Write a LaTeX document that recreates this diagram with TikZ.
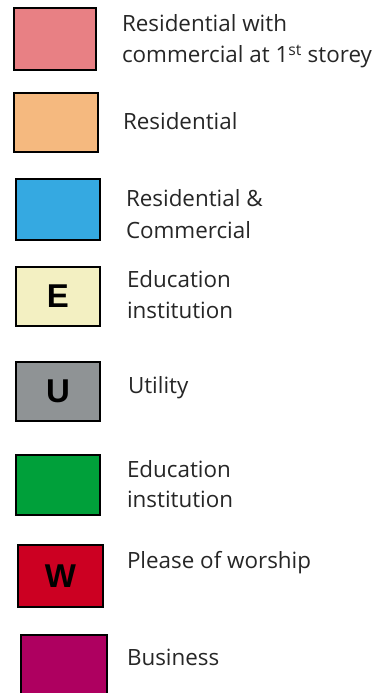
\documentclass[tikz,border=0pt]{standalone}
\usepackage{fontspec}
\setmainfont{Open Sans}
\newfontfamily\boxfont{Liberation Sans}
\definecolor{cPink}{HTML}{E88084}
\definecolor{cOrange}{HTML}{F5B97F}
\definecolor{cBlue}{HTML}{35A9E1}
\definecolor{cCream}{HTML}{F3F0C2}
\definecolor{cGray}{HTML}{8F9395}
\definecolor{cGreen}{HTML}{00A03A}
\definecolor{cRed}{HTML}{CC0022}
\definecolor{cMagenta}{HTML}{AE0060}
\definecolor{cText}{HTML}{262626}
\begin{document}
\begin{tikzpicture}[x=1pt,y=-1pt,
  legbox/.style={draw=black, line width=2pt, inner sep=0pt, outer sep=0pt,
    font=\boxfont\bfseries\fontsize{33}{33}\selectfont},
  legtext/.style={anchor=base west, inner sep=0pt, outer sep=0pt, text=cText,
    font=\fontsize{22.4}{31}\selectfont}]
\useasboundingbox (0,0) rectangle (377,693);
\clip (0,0) rectangle (377,693);
% boxes
\node[legbox, fill=cPink, minimum width=82pt, minimum height=62pt] (b1) at (55,39) {};
\node[legbox, fill=cOrange, minimum width=84pt, minimum height=59pt] (b2) at (56,122.5) {};
\node[legbox, fill=cBlue, minimum width=84pt, minimum height=61pt] (b3) at (58,209.5) {};
\node[legbox, fill=cCream, minimum width=84pt, minimum height=59pt] (b4) at (58,296.5) {E};
\node[legbox, fill=cGray, minimum width=84pt, minimum height=59pt] (b5) at (58,391.5) {U};
\node[legbox, fill=cGreen, minimum width=84pt, minimum height=60pt] (b6) at (58,485) {};
\node[legbox, fill=cRed, minimum width=85pt, minimum height=62pt] (b7) at (60.5,576) {W};
\node[legbox, fill=cMagenta, minimum width=86pt, minimum height=70pt] (b8) at (64,670) {};
% texts
\node[legtext] (t1a) at (122,32) {Residential with};
\node[legtext] (t1b) at (122,63) {commercial at 1\textsuperscript{st} storey};
\node[legtext] (t2) at (123,129) {Residential};
\node[legtext] (t3a) at (126,206) {Residential \&};
\node[legtext] (t3b) at (126,238) {Commercial};
\node[legtext] (t4a) at (127,287) {Education};
\node[legtext] (t4b) at (127,318) {institution};
\node[legtext] (t5) at (128,393) {Utility};
\node[legtext] (t6a) at (127,477) {Education};
\node[legtext] (t6b) at (127,507) {institution};
\node[legtext] (t7) at (127,568) {Please of worship};
\node[legtext] (t8) at (127,665) {Business};
\end{tikzpicture}
\end{document}
